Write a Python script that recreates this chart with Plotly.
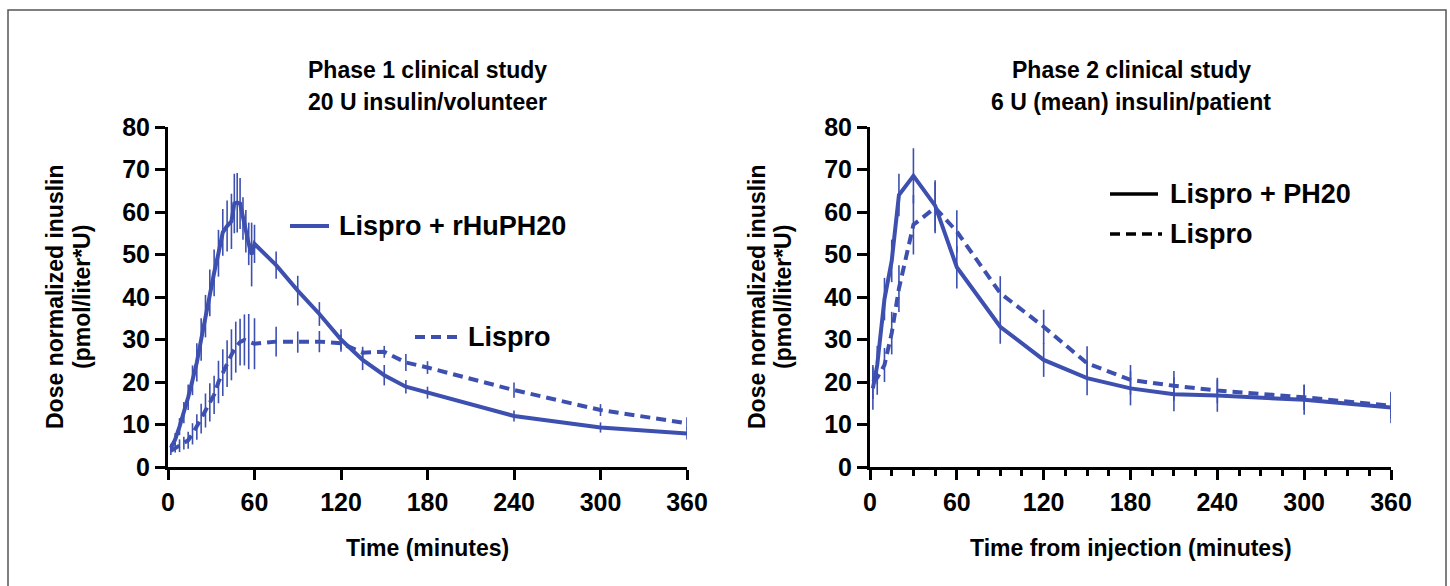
import plotly.graph_objects as go

# ---------------- data ----------------
# Phase 1 (left panel)
P1_TIME_COMBO = [2, 5, 8, 11, 14, 17, 20, 23, 26, 29, 32, 35, 38, 41, 44, 46, 48, 50, 52, 54,
                 56, 58, 60, 75, 90, 105, 120, 135, 150, 165, 180, 240, 300, 360]
P1_COMBO = [4.5, 6.5, 9.5, 12.8, 16.4, 20.4, 24.6, 30, 35.5, 41, 45.7, 50.3, 55.2, 56.7, 57.8, 62,
            62.2, 62, 58.5, 55.5, 52.5, 50, 52.5, 47.5, 41.5, 36, 30, 25.2, 21.6, 18.9, 17.5, 12, 9.3, 7.9]
P1_COMBO_ERR = [1, 1.5, 2, 2.5, 3, 3.5, 4.5, 5, 5, 5.5, 5.5, 5.5, 5.5, 6, 6.5, 7, 7, 6, 5, 5,
                5, 7.5, 4.5, 3.2, 3.5, 2.8, 2.4, 2.4, 2.4, 1.6, 1.4, 1.3, 1.2, 1.4]

P1_TIME_LISPRO = [2, 5, 8, 11, 14, 17, 20, 23, 26, 29, 32, 35, 38, 41, 44, 47, 50, 53, 56, 60,
                  75, 90, 105, 120, 135, 150, 165, 180, 240, 300, 360]
P1_LISPRO = [3.8, 4.4, 5.0, 5.6, 6.3, 7.8, 9.4, 11.4, 13.3, 15.2, 17.0, 20.0, 22.2, 24.3, 26.4, 28.2,
             29.4, 29.9, 29.5, 29.0, 29.5, 29.4, 29.5, 29.1, 26.9, 27.1, 24.6, 23.4, 18.1, 13.4, 10.3]
P1_LISPRO_ERR = [1, 1, 1.5, 1.5, 2, 2.5, 3, 3.5, 4, 4.5, 4.5, 5, 5.5, 5.5, 6, 6, 5.5, 6, 6.5, 6,
                 3.5, 2.5, 2.5, 2, 1.4, 1.4, 2, 1.5, 1.8, 1.4, 1.4]

# Phase 2 (right panel)
P2_TIME = [2, 5, 10, 15, 20, 30, 45, 60, 90, 120, 150, 180, 210, 240, 300, 360]
P2_COMBO = [18.5, 24, 39.5, 48.5, 64, 68.5, 61.5, 47, 33, 25.2, 20.9, 18.5, 17.1, 16.8, 15.8, 14]
P2_COMBO_ERR = [5, 4.5, 5, 5, 5, 6.5, 6, 5, 4, 4, 4, 4, 4, 3.8, 3.5, 3.7]
P2_LISPRO = [20, 21, 24, 31.5, 42, 57, 61, 55.4, 40.9, 33, 24.4, 20.5, 19.1, 18, 16.4, 14.4]
P2_LISPRO_ERR = [4, 4, 4, 5, 5.5, 7, 6, 5, 4, 4, 4, 3.5, 3.5, 3, 3, 3]

X_TICKS = [0, 60, 120, 180, 240, 300, 360]
Y_TICKS = [0, 10, 20, 30, 40, 50, 60, 70, 80]

# ---------------- style ----------------
BLUE = "#3d50b0"
FONT = "Liberation Sans, Arial, Helvetica, sans-serif"
W, H = 1450, 586


def px(x):
    return x / W


def py(y):
    return 1 - y / H


fig = go.Figure()


def add_series(t, v, e, dash, xa, ya):
    fig.add_trace(go.Scatter(
        x=t, y=v, mode="lines",
        line=dict(color=BLUE, width=4, dash=dash),
        error_y=dict(type="data", array=e, visible=True, color=BLUE, thickness=1.6, width=0),
        xaxis=xa, yaxis=ya, showlegend=False, hoverinfo="x+y"))


add_series(P1_TIME_LISPRO, P1_LISPRO, P1_LISPRO_ERR, "10px,6px", "x", "y")
add_series(P1_TIME_COMBO, P1_COMBO, P1_COMBO_ERR, "solid", "x", "y")
add_series(P2_TIME, P2_LISPRO, P2_LISPRO_ERR, "10px,6px", "x2", "y2")
add_series(P2_TIME, P2_COMBO, P2_COMBO_ERR, "solid", "x2", "y2")

tickfont = dict(family=FONT, size=25, color="black", weight="bold")
common_x = dict(range=[0, 360], tickvals=X_TICKS, showline=True, linewidth=3, linecolor="black",
                ticks="outside", ticklen=10, tickwidth=3, tickcolor="black", showgrid=False,
                zeroline=False, tickfont=tickfont, automargin=False, ticklabelstandoff=1)
common_y = dict(range=[0, 80], tickvals=Y_TICKS, showline=True, linewidth=3, linecolor="black",
                ticks="outside", ticklen=10, tickwidth=3, tickcolor="black", showgrid=False,
                zeroline=False, tickfont=tickfont, domain=[py(467), py(127)], automargin=False)

fig.update_layout(
    width=W, height=H, margin=dict(l=0, r=0, t=0, b=0, pad=0, autoexpand=False),
    paper_bgcolor="white", plot_bgcolor="white",
    xaxis=dict(common_x, domain=[px(168), px(687)], anchor="y"),
    yaxis=dict(common_y, anchor="x"),
    xaxis2=dict(common_x, domain=[px(870), px(1391)], anchor="y2",
                minor=dict(dtick=15, tick0=0, ticks="outside", ticklen=6, tickwidth=3,
                           tickcolor="black", showgrid=False)),
    yaxis2=dict(common_y, anchor="x2"),
    showlegend=False,
)

ann = []


def text(x, y, s, size, angle=0, xanchor="center"):
    ann.append(dict(x=px(x), y=py(y), xref="paper", yref="paper", text=s, showarrow=False,
                    textangle=angle, xanchor=xanchor, yanchor="middle",
                    font=dict(family=FONT, size=size, color="black", weight="bold")))


# titles
text(427, 70, "Phase 1 clinical study", 23)
text(427, 102, "20 U insulin/volunteer", 23)
text(1131, 70, "Phase 2 clinical study", 23)
text(1131, 102, "6 U (mean) insulin/patient", 23)
# axis titles
text(427, 548, "Time (minutes)", 23)
text(1131, 548, "Time from injection (minutes)", 23)
text(55, 297, "Dose normalized inuslin", 23, angle=-90)
text(82, 297, "(pmol/liter*U)", 23, angle=-90)
text(757, 297, "Dose normalized inuslin", 23, angle=-90)
text(783, 297, "(pmol/liter*U)", 23, angle=-90)
# legend labels
text(337, 226, "Lispro + rHuPH20", 27, xanchor="left")
text(466, 337, "Lispro", 27, xanchor="left")
text(1168, 194, "Lispro + PH20", 27, xanchor="left")
text(1168, 234, "Lispro", 27, xanchor="left")
fig.update_layout(annotations=ann)

shapes = [
    # outer frame
    dict(type="rect", xref="paper", yref="paper", x0=px(8), x1=px(1446), y0=py(600), y1=py(10),
         line=dict(color="#555555", width=1.5)),
    # legend samples
    dict(type="line", xref="paper", yref="paper", x0=px(290), x1=px(329), y0=py(226), y1=py(226),
         line=dict(color=BLUE, width=4)),
    dict(type="line", xref="paper", yref="paper", x0=px(415), x1=px(458), y0=py(337), y1=py(337),
         line=dict(color=BLUE, width=4, dash="10px,6px")),
    dict(type="line", xref="paper", yref="paper", x0=px(1110), x1=px(1158), y0=py(194), y1=py(194),
         line=dict(color="black", width=3.5)),
    dict(type="line", xref="paper", yref="paper", x0=px(1110), x1=px(1162), y0=py(234), y1=py(234),
         line=dict(color="black", width=3.5, dash="10px,6px")),
]
fig.update_layout(shapes=shapes)

fig.write_html(
    "out.html",
    config={"displayModeBar": False},
    post_script="document.body.style.margin='0';document.body.style.overflow='hidden';",
)
